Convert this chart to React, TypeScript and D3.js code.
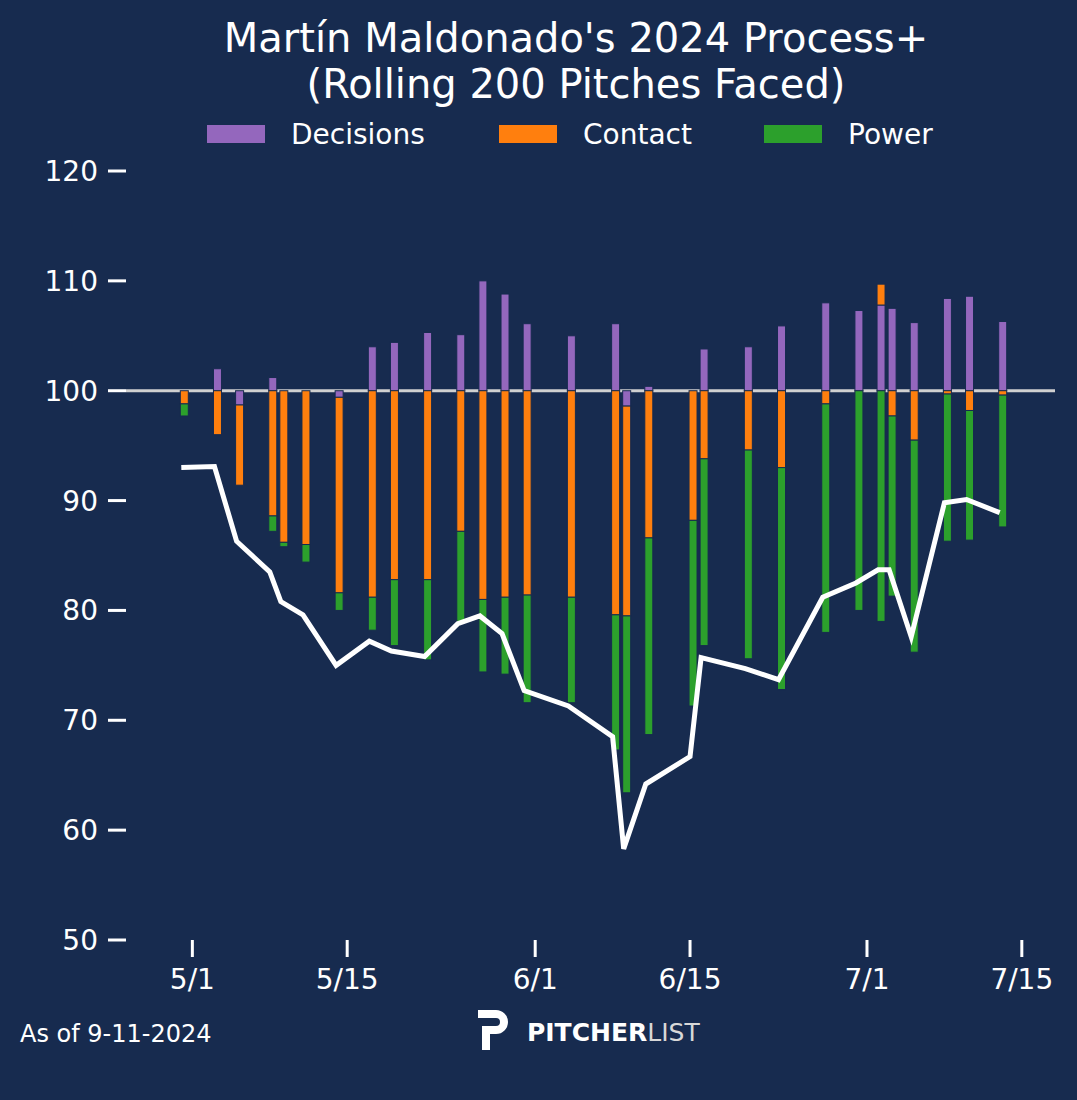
import React from "react";
import * as d3 from "d3";

const dates = ["2024-04-30","2024-05-03","2024-05-05","2024-05-08","2024-05-09","2024-05-11","2024-05-14","2024-05-17","2024-05-19","2024-05-22","2024-05-25","2024-05-27","2024-05-29","2024-05-31","2024-06-04","2024-06-08","2024-06-09","2024-06-11","2024-06-15","2024-06-16","2024-06-20","2024-06-23","2024-06-27","2024-06-30","2024-07-02","2024-07-03","2024-07-05","2024-07-08","2024-07-10","2024-07-13"];
const decisions = [0,2,-1.3,1.2,0,0,-0.6,4,4.4,5.3,5.1,10,8.8,6.1,5,6.1,-1.4,0.4,0,3.8,4,5.9,8,7.3,7.8,7.5,6.2,8.4,8.6,6.3];
const contact = [-1.2,-4,-7.3,-11.4,-13.8,-14,-17.8,-18.8,-17.2,-17.2,-12.8,-19,-18.8,-18.6,-18.8,-20.4,-19.1,-13.4,-11.8,-6.2,-5.4,-7,-1.2,0,1.9,-2.3,-4.5,-0.3,-1.8,-0.4];
const power = [-1.1,0,0,-1.4,-0.4,-1.6,-1.6,-3,-6,-7.3,-8.2,-6.6,-7,-9.8,-9.6,-12.3,-16.1,-17.9,-16.9,-17,-19,-20.2,-20.8,-20,-21,-16.4,-19.3,-13.4,-11.8,-12];
const processPlus = [93,93.1,86.3,83.5,80.8,79.6,75,77.2,76.3,75.8,78.8,79.5,77.9,72.7,71.3,68.5,58.3,64.2,66.7,75.7,74.7,73.7,81.2,82.5,83.7,83.7,77.6,89.8,90.1,88.9];
const yTicks = [50,60,70,80,90,100,110,120];
const xTickDates = ["2024-05-01","2024-05-15","2024-06-01","2024-06-15","2024-07-01","2024-07-15"];
const seriesNames = ["Decisions","Contact","Power"];
const colors = ["#9467bd","#ff7f0e","#2ca02c"];

const parse = d3.timeParse("%Y-%m-%d");
const fmt = d3.timeFormat("%-m/%-d");
const BG = "#172b4f";

export default function App() {
  const x = d3.scaleTime()
    .domain([parse("2024-04-25")!, parse("2024-07-18")!])
    .range([126, 1055]);
  const y = d3.scaleLinear().domain([50, 120]).range([940, 171]);
  const bw = 8;
  const series = [decisions, contact, power];

  const bars: React.ReactNode[] = [];
  dates.forEach((ds, i) => {
    const cx = x(parse(ds)!) + 3;
    let pos = 100, neg = 100;
    series.forEach((s, k) => {
      const v = s[i];
      if (v === 0) return;
      let a, b;
      if (v > 0) { a = pos; b = pos + v; pos = b; } else { a = neg; b = neg + v; neg = b; }
      const y0 = y(Math.max(a, b)), y1 = y(Math.min(a, b));
      bars.push(<rect key={i + "-" + k} x={cx - bw / 2} y={y0} width={bw} height={y1 - y0}
        fill={colors[k]} stroke={BG} strokeWidth={1} />);
    });
  });

  const line = d3.line<number>()
    .x((_, i) => x(parse(dates[i])!))
    .y(d => y(d));

  const font = "'DejaVu Sans', sans-serif";
  return (
    <svg width={1077} height={1100} style={{ position: "absolute", left: 0, top: 0 }} fontFamily={font}>
      <rect width={1077} height={1100} fill={BG} />
      <text x={576} y={52} fill="#fff" fontSize={40} textAnchor="middle">Martín Maldonado's 2024 Process+</text>
      <text x={576} y={98} fill="#fff" fontSize={40} textAnchor="middle">(Rolling 200 Pitches Faced)</text>
      {seriesNames.map((n, k) => {
        const lx = [207, 499, 764][k];
        return (
          <g key={n}>
            <rect x={lx} y={125} width={58} height={18} fill={colors[k]} />
            <text x={lx + 84} y={144} fill="#fff" fontSize={28}>{n}</text>
          </g>
        );
      })}
      {yTicks.map(t => (
        <g key={t}>
          <line x1={108} x2={126} y1={y(t)} y2={y(t)} stroke="#fff" strokeWidth={3} />
          <text x={98} y={y(t) + 10} fill="#fff" fontSize={28} textAnchor="end">{t}</text>
        </g>
      ))}
      {xTickDates.map(t => {
        const xx = x(parse(t)!);
        return (
          <g key={t}>
            <line x1={xx} x2={xx} y1={940} y2={957} stroke="#fff" strokeWidth={3} />
            <text x={xx} y={989} fill="#fff" fontSize={28} textAnchor="middle">{fmt(parse(t)!)}</text>
          </g>
        );
      })}
      <line x1={126} x2={1055} y1={y(100)} y2={y(100)} stroke="#d0d0d0" strokeWidth={3} />
      {bars}
      <path d={line(processPlus)!} fill="none" stroke="#fff" strokeWidth={5} />
      <text x={20} y={1042} fill="#fff" fontSize={24}>As of 9-11-2024</text>
      <g>
        <path d="M478,1010 h18 a12,12 0 0 1 0,24 h-6 v16 h-8 v-24 h14 a4,4 0 0 0 0,-8 h-18 z" fill="#fff" />
        <text x={527} y={1041} fill="#fff" fontSize={25} fontWeight="bold">PITCHER<tspan fontWeight="normal" fill="#d8d8d8">LIST</tspan></text>
      </g>
    </svg>
  );
}
